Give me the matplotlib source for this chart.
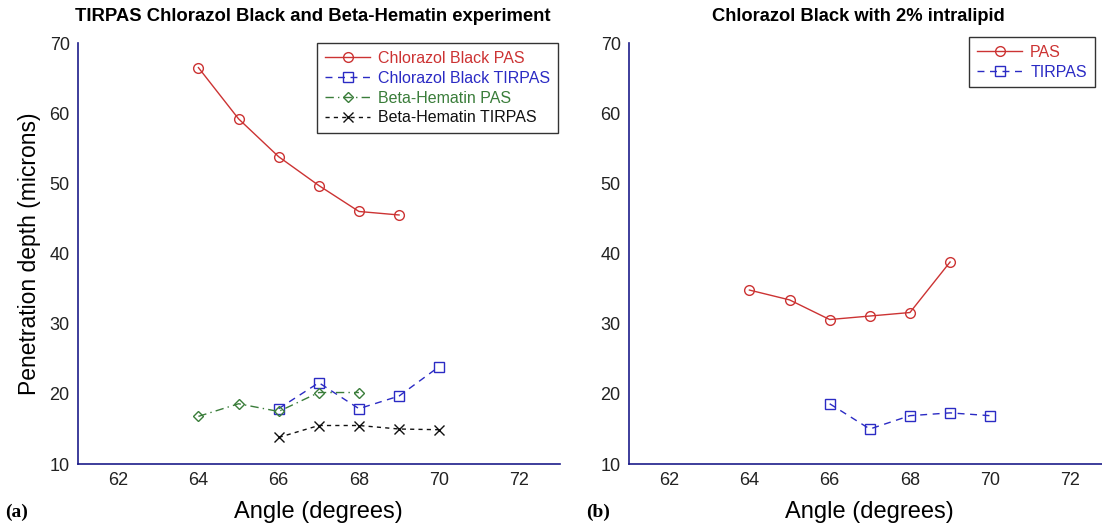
import matplotlib.pyplot as plt

# angles (degrees)
angle_cb_pas = [64, 65, 66, 67, 68, 69]
angle_cb_tir = [66, 67, 68, 69, 70]
angle_bh_pas = [64, 65, 66, 67, 68]
angle_bh_tir = [66, 67, 68, 69, 70]
angle_il_pas = [64, 65, 66, 67, 68, 69]
angle_il_tir = [66, 67, 68, 69, 70]

# penetration depth (microns)
cb_pas = [66.5, 59.2, 53.8, 49.7, 46.0, 45.5]
cb_tir = [17.9, 21.6, 17.9, 19.7, 23.9]
bh_pas = [16.8, 18.6, 17.5, 20.2, 20.2]
bh_tir = [13.8, 15.5, 15.5, 15.0, 14.9]
il_pas = [34.8, 33.4, 30.6, 31.1, 31.6, 38.8]
il_tir = [18.6, 15.0, 16.9, 17.3, 16.9]

RED = '#cc3333'
BLUE = '#2b2bc4'
GREEN = '#3a7d3a'
BLACK = '#111111'
NAVY = '#1c1c8a'

plt.rcParams['font.family'] = ['Liberation Sans', 'DejaVu Sans']

fig = plt.figure(figsize=(11.02, 5.25), dpi=100)
fig.patch.set_facecolor('white')

ax1 = fig.add_axes([0.0708, 0.116, 0.437, 0.802])
ax2 = fig.add_axes([0.5708, 0.116, 0.437, 0.802])

mk = dict(markerfacecolor='none', markersize=7, markeredgewidth=1.0, linewidth=1.0)
ax1.plot(angle_cb_pas, cb_pas, '-', marker='o', color=RED, label='Chlorazol Black PAS', **mk)
ax1.plot(angle_cb_tir, cb_tir, marker='s', color=BLUE, dashes=(5, 4),
         label='Chlorazol Black TIRPAS', **mk)
ax1.plot(angle_bh_pas, bh_pas, marker='D', color=GREEN, dashes=(6, 3, 1, 3),
         label='Beta-Hematin PAS', markersize=5.5, markerfacecolor='none',
         markeredgewidth=1.0, linewidth=1.0)
ax1.plot(angle_bh_tir, bh_tir, marker='x', color=BLACK, dashes=(3, 3),
         label='Beta-Hematin TIRPAS', markersize=7, markeredgewidth=1.0, linewidth=1.0)

ax2.plot(angle_il_pas, il_pas, '-', marker='o', color=RED, label='PAS', **mk)
ax2.plot(angle_il_tir, il_tir, marker='s', color=BLUE, dashes=(5, 4), label='TIRPAS', **mk)

for ax in (ax1, ax2):
    ax.set_xlim(61, 73)
    ax.set_ylim(10, 70)
    ax.set_xticks([62, 64, 66, 68, 70, 72])
    ax.set_yticks([10, 20, 30, 40, 50, 60, 70])
    for s in ('top', 'right'):
        ax.spines[s].set_visible(False)
    for s in ('left', 'bottom'):
        ax.spines[s].set_color(NAVY)
        ax.spines[s].set_linewidth(1.2)
    ax.tick_params(length=0, labelsize=13, colors='#222222', pad=6)
    ax.set_xlabel('Angle (degrees)', fontsize=17, labelpad=8)

ax1.set_ylabel('Penetration depth (microns)', fontsize=16.5, labelpad=6)

leg_kw = dict(fontsize=11.5, frameon=True, fancybox=False, edgecolor='black',
              handlelength=2.8, handletextpad=0.5, labelspacing=0.3,
              borderpad=0.5, borderaxespad=0)
leg1 = ax1.legend(loc='upper right', bbox_to_anchor=(0.997, 1.0), **leg_kw)
leg2 = ax2.legend(loc='upper left', bbox_to_anchor=(0.707, 1.015), **leg_kw)
for leg in (leg1, leg2):
    leg.get_frame().set_linewidth(1.0)
    for line, txt in zip(leg.get_lines(), leg.get_texts()):
        txt.set_color(line.get_color())

fig.text(0.284, 0.968, 'TIRPAS Chlorazol Black and Beta-Hematin experiment',
         ha='center', va='center', fontsize=13.3, fontweight='bold')
fig.text(0.779, 0.968, 'Chlorazol Black with 2% intralipid',
         ha='center', va='center', fontsize=13.2, fontweight='bold')

fig.text(0.005, 0.025, '(a)', fontsize=14, fontweight='bold',
         family=['Liberation Serif', 'DejaVu Serif'], ha='left', va='center')
fig.text(0.532, 0.025, '(b)', fontsize=14, fontweight='bold',
         family=['Liberation Serif', 'DejaVu Serif'], ha='left', va='center')

fig.savefig('out.png', dpi=100, facecolor='white')
